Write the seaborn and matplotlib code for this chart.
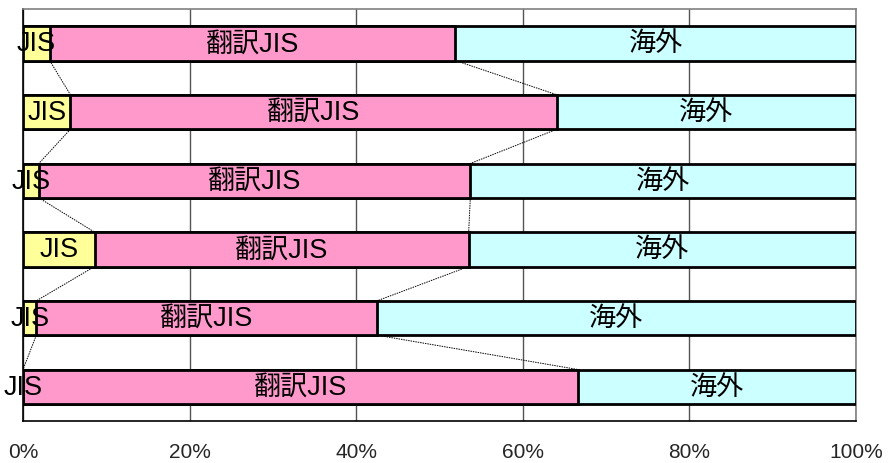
import numpy as np
import pandas as pd
import seaborn as sns
import matplotlib.pyplot as plt
from matplotlib.ticker import PercentFormatter

# Data (percent shares per row, top to bottom)
rows = ["1", "2", "3", "4", "5", "6"]
jis = [3.2, 5.7, 1.9, 8.6, 1.6, 0.0]
honyaku_jis = [48.7, 58.4, 51.8, 44.9, 40.9, 66.6]
kaigai = [48.1, 35.9, 46.3, 46.5, 57.5, 33.4]
series_names = ["JIS", "翻訳JIS", "海外"]
colors = ["#FFFF99", "#FF99CC", "#CCFFFF"]
xticks = [0, 20, 40, 60, 80, 100]

sns.set_style("white")
plt.rcParams['font.family'] = ['Liberation Sans', 'Noto Sans CJK JP', 'DejaVu Sans']

df = pd.DataFrame({"row": rows, "JIS": jis, "翻訳JIS": honyaku_jis, "海外": kaigai})
parts = df[series_names].to_numpy()
cum = parts.cumsum(axis=1)
starts = cum - parts

fig = plt.figure(figsize=(8.9, 4.64), dpi=100)
ax = fig.add_axes([23 / 890, 1 - 422 / 464, (856 - 23) / 890, (422 - 10) / 464])

bar_w = 0.5
# draw cumulative totals, largest first, so the stacks overlay
for k in reversed(range(len(series_names))):
    tmp = pd.DataFrame({"row": rows, "val": cum[:, k]})
    sns.barplot(data=tmp, x="val", y="row", orient="h", color=colors[k],
                width=bar_w, edgecolor="black", linewidth=2, saturation=1,
                ax=ax, zorder=3)

# series lines between bars
for k in range(len(series_names) - 1):
    for i in range(len(rows) - 1):
        ax.plot([cum[i, k], cum[i + 1, k]], [i + bar_w / 2, i + 1 - bar_w / 2],
                color="black", lw=0.7, ls=(0, (1.5, 1)), zorder=2)

# segment labels
for i in range(len(rows)):
    for k, name in enumerate(series_names):
        ax.text(starts[i, k] + parts[i, k] / 2, i, name, ha="center", va="center",
                fontsize=19.5, color="black", zorder=5)

ax.set_xlim(0, 100)
ax.set_ylim(len(rows) - 0.5, -0.5)
ax.set_xticks(xticks)
ax.xaxis.set_major_formatter(PercentFormatter(decimals=0))
ax.set_yticks([])
ax.set_xlabel("")
ax.set_ylabel("")
ax.tick_params(axis="x", length=0, pad=15, labelsize=15)
ax.grid(axis="x", color="#555555", lw=1, zorder=0)
ax.set_axisbelow(True)
for side in ["top", "right"]:
    ax.spines[side].set_color("#808080")
for side in ["left", "bottom"]:
    ax.spines[side].set_color("black")
for s in ax.spines.values():
    s.set_linewidth(1.2)

fig.savefig("out.png", dpi=100)
